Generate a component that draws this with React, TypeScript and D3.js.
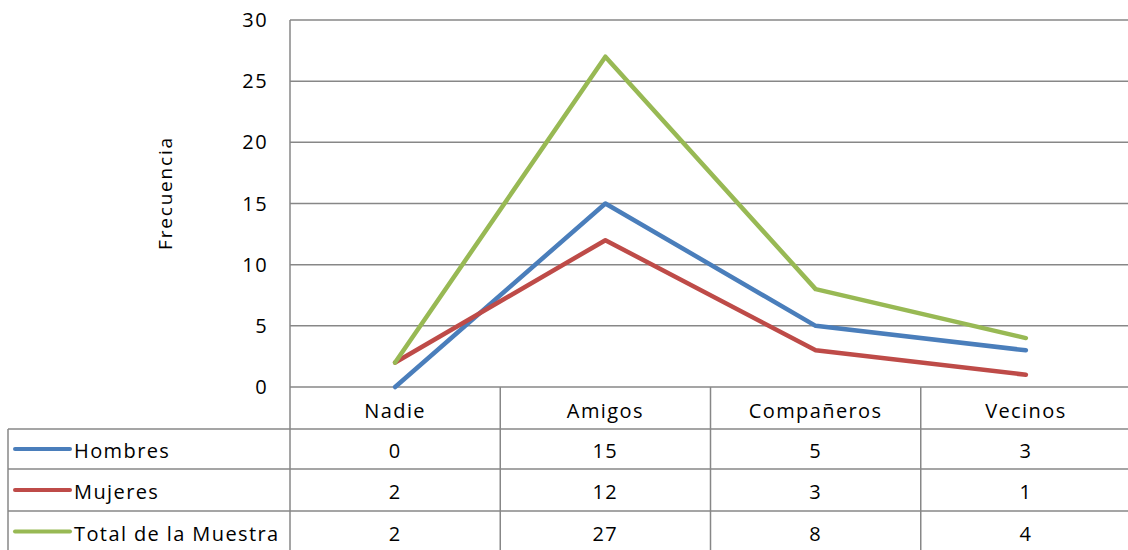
import React from "react";
import * as d3 from "d3";

const categories = ["Nadie", "Amigos", "Compañeros", "Vecinos"];
const seriesNames = ["Hombres", "Mujeres", "Total de la Muestra"];
const hombres = [0, 15, 5, 3];
const mujeres = [2, 12, 3, 1];
const total = [2, 27, 8, 4];
const yTicks = [0, 5, 10, 15, 20, 25, 30];
const colors = ["#4A7EBB", "#BE4B48", "#98B954"];

const W = 1128;
const H = 550;
const FONT = "'Open Sans', 'Liberation Sans', sans-serif";
const FS = 20;
const LS = 1.4;

export default function App() {
  const seriesValues = [hombres, mujeres, total];
  const x = d3.scaleBand<string>().domain(categories).range([290, 1131]).padding(0);
  const y = d3.scaleLinear().domain([0, 30]).range([387, 20]);
  const line = d3
    .line<number>()
    .x((_, i) => (x(categories[i]) as number) + x.bandwidth() / 2)
    .y((d) => y(d));
  const rowTops = [387, 429, 469, 511, 552];
  const grid = "#878787";
  return (
    <svg
      width={W}
      height={H}
      style={{ position: "absolute", left: 0, top: 0, background: "#fff" }}
      fontFamily={FONT}
    >
      {yTicks.map((t) => (
        <g key={t}>
          <line x1={290} x2={W} y1={y(t)} y2={y(t)} stroke={grid} strokeWidth={1.5} />
          <text x={268} y={y(t)} dy="0.35em" textAnchor="end" fontSize={FS} letterSpacing={LS} fill="#000">
            {t}
          </text>
        </g>
      ))}
      <line x1={290} x2={290} y1={20} y2={H} stroke={grid} strokeWidth={1.5} />
      <text
        transform={`translate(172,${193}) rotate(-90)`}
        textAnchor="middle"
        fontSize={19}
        letterSpacing={1.8}
        fill="#000"
      >
        Frecuencia
      </text>
      {rowTops.slice(1, 4).map((r) => (
        <line key={r} x1={8} x2={W} y1={r} y2={r} stroke={grid} strokeWidth={1.5} />
      ))}
      <line x1={8} x2={8} y1={429} y2={H} stroke={grid} strokeWidth={1.5} />
      {categories.slice(1).map((c) => (
        <line
          key={c}
          x1={x(c) as number}
          x2={x(c) as number}
          y1={387}
          y2={H}
          stroke={grid}
          strokeWidth={1.5}
        />
      ))}
      {categories.map((c) => (
        <text
          key={c}
          x={(x(c) as number) + x.bandwidth() / 2}
          y={(rowTops[0] + rowTops[1]) / 2 + 3}
          dy="0.35em"
          textAnchor="middle"
          fontSize={FS}
          letterSpacing={LS}
          fill="#000"
        >
          {c}
        </text>
      ))}
      {seriesValues.map((vals, si) => {
        const cy = (rowTops[si + 1] + rowTops[si + 2]) / 2 + 2;
        return (
          <g key={si}>
            <line x1={15} x2={70} y1={cy - 2} y2={cy - 2} stroke={colors[si]} strokeWidth={4} strokeLinecap="round" />
            <text x={74} y={cy} dy="0.35em" fontSize={FS} letterSpacing={LS} fill="#000">
              {seriesNames[si]}
            </text>
            {vals.map((v, i) => (
              <text
                key={i}
                x={(x(categories[i]) as number) + x.bandwidth() / 2}
                y={cy}
                dy="0.35em"
                textAnchor="middle"
                fontSize={FS}
                letterSpacing={LS}
                fill="#000"
              >
                {v}
              </text>
            ))}
          </g>
        );
      })}
      {seriesValues.map((vals, si) => (
        <path
          key={si}
          d={line(vals) as string}
          fill="none"
          stroke={colors[si]}
          strokeWidth={4.5}
          strokeLinecap="round"
          strokeLinejoin="round"
        />
      ))}
    </svg>
  );
}
